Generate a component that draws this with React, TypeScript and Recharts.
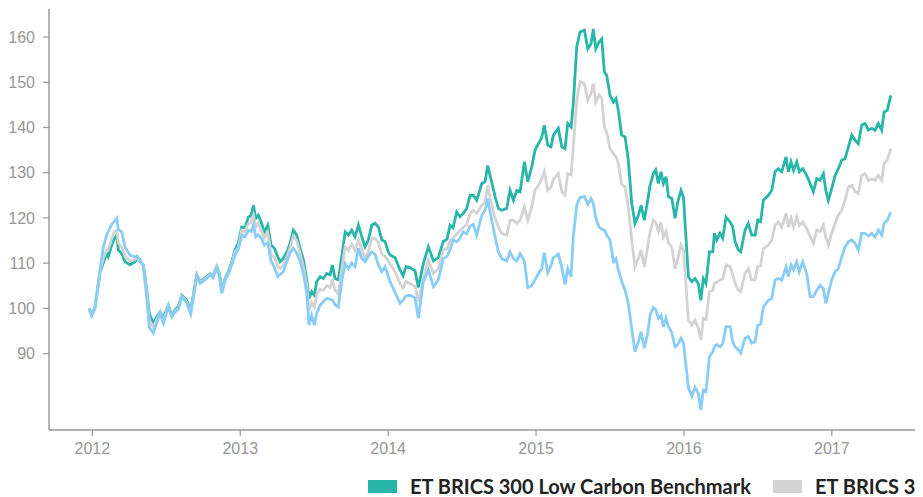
import React from "react";
import { LineChart, Line, XAxis, YAxis } from "recharts";

const years = [
  2011.978, 2011.996, 2012.018, 2012.052, 2012.074, 2012.097, 2012.108, 2012.131, 2012.150, 2012.165,
  2012.176, 2012.199, 2012.221, 2012.255, 2012.289, 2012.304, 2012.323, 2012.345, 2012.368, 2012.385,
  2012.412, 2012.435, 2012.458, 2012.480, 2012.514, 2012.537, 2012.559, 2012.581, 2012.604, 2012.638,
  2012.665, 2012.706, 2012.728, 2012.774, 2012.796, 2012.816, 2012.841, 2012.859, 2012.875, 2012.897,
  2012.920, 2012.943, 2012.965, 2012.987, 2013.010, 2013.032, 2013.055, 2013.073, 2013.089, 2013.105,
  2013.122, 2013.141, 2013.163, 2013.186, 2013.208, 2013.231, 2013.254, 2013.269, 2013.291, 2013.321,
  2013.337, 2013.359, 2013.382, 2013.404, 2013.427, 2013.450, 2013.465, 2013.483, 2013.501, 2013.517,
  2013.540, 2013.562, 2013.585, 2013.607, 2013.623, 2013.641, 2013.663, 2013.686, 2013.709, 2013.731,
  2013.754, 2013.776, 2013.799, 2013.822, 2013.844, 2013.866, 2013.889, 2013.911, 2013.934, 2013.957,
  2013.979, 2014.001, 2014.013, 2014.047, 2014.080, 2014.101, 2014.121, 2014.148, 2014.182, 2014.204,
  2014.238, 2014.272, 2014.306, 2014.339, 2014.373, 2014.398, 2014.419, 2014.439, 2014.464, 2014.486,
  2014.508, 2014.531, 2014.554, 2014.576, 2014.599, 2014.633, 2014.655, 2014.673, 2014.689, 2014.723,
  2014.745, 2014.768, 2014.802, 2014.824, 2014.847, 2014.870, 2014.892, 2014.921, 2014.944, 2014.971,
  2014.993, 2015.016, 2015.039, 2015.056, 2015.079, 2015.101, 2015.117, 2015.151, 2015.174, 2015.196,
  2015.214, 2015.237, 2015.252, 2015.275, 2015.297, 2015.327, 2015.350, 2015.372, 2015.387, 2015.404,
  2015.426, 2015.444, 2015.462, 2015.478, 2015.500, 2015.523, 2015.541, 2015.556, 2015.579, 2015.602,
  2015.624, 2015.647, 2015.669, 2015.692, 2015.710, 2015.732, 2015.755, 2015.771, 2015.793, 2015.809,
  2015.827, 2015.845, 2015.861, 2015.879, 2015.895, 2015.918, 2015.940, 2015.958, 2015.980, 2015.997,
  2016.030, 2016.053, 2016.075, 2016.097, 2016.114, 2016.131, 2016.149, 2016.172, 2016.195, 2016.206,
  2016.222, 2016.244, 2016.262, 2016.285, 2016.312, 2016.330, 2016.346, 2016.368, 2016.384, 2016.413,
  2016.435, 2016.458, 2016.481, 2016.499, 2016.518, 2016.537, 2016.571, 2016.594, 2016.616, 2016.638,
  2016.661, 2016.690, 2016.706, 2016.724, 2016.741, 2016.763, 2016.780, 2016.803, 2016.830, 2016.853,
  2016.875, 2016.898, 2016.920, 2016.943, 2016.959, 2016.976, 2016.999, 2017.022, 2017.044, 2017.067,
  2017.089, 2017.112, 2017.135, 2017.157, 2017.179, 2017.202, 2017.224, 2017.247, 2017.270, 2017.292,
  2017.314, 2017.337, 2017.353, 2017.375, 2017.398,
];

const lowCarbon = [
  100, 98.6, 100.2, 108, 110, 112.1, 111.4, 114, 115.5, 116.2,
  112.9, 112.1, 110.3, 109.6, 110.3, 111.4, 110.3, 109.6, 104, 98.9,
  96.7, 98.1, 99.2, 97.8, 100.7, 98.5, 99.6, 100.4, 102.9, 101.8,
  99.6, 107.4, 105.9, 107, 107.7, 107.2, 109.2, 107.7, 104, 106.6,
  108.1, 110.3, 113, 114.5, 118, 117.8, 120.2, 120.5, 122.8, 119.9,
  120.6, 119.1, 116.9, 118.4, 114, 113.3, 111.4, 110.3, 111, 112.9,
  114.4, 117.3, 116.2, 113.3, 110.7, 106.3, 102.2, 103.7, 102.9, 105.9,
  107, 106.6, 107.7, 107.4, 109.6, 106.6, 106.3, 111.4, 116.9, 116.2,
  117.3, 115.8, 118.4, 115.8, 113.6, 115.1, 118.4, 118.8, 118, 115.1,
  114.8, 112.5, 111.8, 111.2, 108.5, 107.2, 109.2, 109, 108.3, 104.6,
  109.9, 113.6, 110.5, 111.2, 114.8, 115.3, 118.4, 117.8, 121.3, 120.3,
  121, 122.1, 125, 125, 123.9, 127.6, 128, 131.6, 129.4, 124.7,
  122.1, 121.7, 122.1, 126.1, 123.9, 126.1, 125.8, 132.4, 128, 131.3,
  135, 136.4, 137.9, 140.5, 136.1, 135.7, 138.3, 139.8, 135.7, 135.3,
  140.9, 140.1, 145.3, 157.8, 161.1, 161.5, 157.4, 158.5, 161.8, 157.4,
  158.9, 159.6, 152.3, 151.5, 147.1, 145.6, 146.4, 143.8, 138.3, 137.9,
  132.8, 123.2, 118.8, 120.6, 122.8, 119.5, 123.9, 127.2, 129.8, 130.6,
  127.6, 130.2, 127.6, 129.1, 124.7, 124.3, 119.9, 123.5, 126.1, 124.5,
  107, 105.9, 106.6, 105.5, 101.8, 106.6, 105.5, 112.5, 112.5, 116.6,
  115.1, 116.6, 115.5, 120.2, 119.1, 118, 114.7, 112.9, 112.5, 117.3,
  118.8, 116.2, 116.2, 119.5, 119.2, 123.9, 125, 126.1, 130.2, 130.9,
  130.2, 133.5, 130.2, 132.4, 130.5, 132.4, 130.2, 130.9, 129.4, 127.6,
  125.8, 128.7, 128.3, 129.8, 126.1, 123.9, 126.5, 129.4, 130.9, 132.8,
  133.1, 135.7, 138.3, 137.2, 136.4, 140.5, 140.9, 139.4, 139.8, 139.4,
  140.9, 139.4, 143.4, 143.8, 147.1,
];

const brics300 = [
  100, 98.5, 100.1, 108.2, 111, 113, 113, 115.5, 117, 117.3,
  114.5, 113.5, 111.5, 110.5, 110.8, 111.3, 110.5, 109.4, 103.3, 97.5,
  95.8, 97.5, 99, 97.2, 100.5, 98.2, 99.4, 100, 102.7, 101.4,
  99, 107.2, 105.7, 106.8, 107.6, 107, 109, 107.4, 103.6, 106.4,
  107.8, 110, 112.5, 113.5, 117.3, 117, 118.7, 119, 120.6, 118,
  118.8, 117.5, 115.5, 116.8, 112, 111.2, 109.3, 108.8, 109.6, 111.8,
  113.5, 116, 115, 112.3, 109.2, 105, 99.6, 101.3, 100.3, 103,
  104.2, 104, 105, 104.6, 106.5, 104, 103.2, 108.5, 113.6, 112.8,
  114.2, 112.8, 115.1, 113, 111, 112.5, 115.5, 115.5, 114.5, 112,
  111.5, 110.5, 109.8, 108.1, 105.5, 104.5, 105.9, 105.5, 104.8, 101.5,
  106.5, 110.7, 107.7, 108.8, 112.9, 113.2, 115, 115.5, 116.5, 117.2,
  117.9, 118.5, 121, 121.7, 121, 122.8, 123.5, 127.2, 124.5, 119.9,
  118, 116.6, 116.2, 119.5, 119.5, 118.8, 119.5, 122.4, 119.5, 122.5,
  126.1, 127.2, 128.7, 130.2, 126.1, 126.8, 128.5, 129.8, 125.8, 125,
  129.8, 129.5, 135.7, 146, 150.1, 149.7, 146, 147.5, 149.7, 145.6,
  147.2, 146.5, 140.1, 138.9, 135.3, 134.2, 133.5, 132, 127.5, 126.8,
  122.4, 115.1, 109.2, 111, 112.9, 109.2, 113.6, 117, 119.5, 119,
  117, 119, 115.8, 117, 114.5, 113.4, 108.8, 111, 114, 112.8,
  97.4, 96.3, 97.4, 95.6, 93, 97.8, 97.5, 103.7, 104, 105.5,
  105.8, 106.2, 106.5, 109.6, 109.2, 107.5, 105.5, 104, 103.7, 107.7,
  108.8, 106.3, 106.3, 109.3, 109.4, 113.2, 114, 115.1, 118.4, 119.1,
  118, 121, 118, 119.9, 118, 120.2, 118.3, 119.1, 117.7, 115.8,
  114.4, 117.3, 117, 118.4, 115.8, 114, 116.6, 118.8, 120.6, 121.7,
  123.9, 126.9, 127.2, 125.8, 125.4, 129.4, 129.8, 128.3, 128.6, 128.3,
  129.4, 128.3, 132, 132.8, 135.3,
];

const msciBrics = [
  100, 98.4, 100, 108.5, 113.5, 116.2, 117, 118.6, 119.3, 119.9,
  117.5, 116.9, 113.5, 111.8, 111.4, 111.2, 110.8, 109.2, 102.5, 95.8,
  94.5, 96.7, 99, 96.7, 100.3, 98.1, 99.2, 99.8, 102.5, 101.2,
  98.8, 107, 105.5, 106.6, 107.5, 106.8, 108.8, 107.2, 103.3, 106.2,
  107.6, 109.6, 111.8, 113, 116.2, 115.8, 117.3, 117, 118.4, 115.8,
  116.3, 115.6, 114, 114.5, 110.5, 109, 107, 107.5, 108.1, 110.8,
  112.2, 113.3, 112.2, 110.5, 107.7, 103.3, 96.3, 98.5, 96.3, 98.9,
  100.7, 101.5, 102.2, 102, 101.8, 100.8, 100.3, 106, 109.9, 108.8,
  110, 109.2, 113.3, 111, 110.3, 111.5, 112.5, 112, 109.6, 108.1,
  109.2, 107, 105.9, 103.5, 101.1, 101.8, 102.8, 102.9, 102.3, 97.8,
  105.9, 108.5, 104.8, 106.3, 111, 111.5, 113, 115.1, 114.7, 115.5,
  116.9, 116.5, 118.2, 118.6, 116.2, 120.6, 121.7, 124.3, 121.5, 115.8,
  112.5, 111, 110.5, 112.5, 111, 110.5, 112.1, 110.5, 104.6, 105,
  106.3, 107.7, 108.8, 112.3, 107.9, 109.5, 111.2, 112, 109, 105.3,
  108.8, 107, 116, 122.8, 124.5, 124.7, 123, 124.3, 123.2, 120,
  118, 117.5, 117.3, 116.2, 115.1, 110.3, 111, 108.5, 106, 104,
  101, 95.5, 90.4, 92.6, 94.8, 91.2, 94.5, 98.5, 100.2, 99.8,
  97.8, 98.5, 95.9, 97.9, 96, 94.6, 91.5, 92, 93.4, 92.3,
  82.5, 80.6, 82.5, 81.2, 77.5, 81.9, 81.6, 89.3, 90.4, 91.5,
  92, 91.5, 92.2, 96, 95.9, 92.5, 91.5, 90.8, 90.1, 93.4,
  93.8, 92.3, 92.6, 96.3, 96.5, 100.3, 101.8, 102.2, 106.3, 106.6,
  106.2, 109.2, 107, 109.6, 108.5, 110.3, 108.1, 110.3, 107.7, 102.6,
  102.6, 104, 105.1, 104.3, 101.1, 103.3, 106.3, 108.1, 108.8, 111.4,
  113.6, 114.7, 115.1, 114.4, 112.9, 116.6, 116.6, 116, 116.6, 115.8,
  117.3, 116.2, 118.8, 119.5, 121.3,
];

const xTicks = [2012, 2013, 2014, 2015, 2016, 2017];
const yTicks = [90, 100, 110, 120, 130, 140, 150, 160];

const seriesNames = [
  "ET BRICS 300 Low Carbon Benchmark",
  "ET BRICS 300",
  "MSCI BRICS",
];

const COLORS = ["#27b6a9", "#d3d3d3", "#88cdf8"];

const data = years.map((y, i) => ({
  year: y,
  lowCarbon: lowCarbon[i],
  brics300: brics300[i],
  msciBrics: msciBrics[i],
}));

const tickStyle = {
  fontFamily: "'Liberation Sans', Arial, sans-serif",
  fontSize: 16,
  fill: "#969696",
};

const legendLeft = [360, 765, 1170];

export default function App() {
  return (
    <div
      style={{
        position: "relative",
        width: 915,
        height: 489,
        overflow: "hidden",
      }}
    >
      <style>{"#root{width:915px;}"}</style>
      <LineChart
        width={1050}
        height={489}
        data={data}
        margin={{ top: 1, right: 0, bottom: 0, left: 0 }}
      >
        <XAxis
          dataKey="year"
          type="number"
          domain={[2011.707, 2018.529]}
          ticks={xTicks}
          tickFormatter={(v) => String(v)}
          height={67}
          tickSize={6}
          tickMargin={7}
          stroke="#9a9a9a"
          axisLine={{ stroke: "#9a9a9a", strokeWidth: 1.5 }}
          tickLine={{ stroke: "#9a9a9a", strokeWidth: 1.2 }}
          tick={tickStyle}
          allowDataOverflow
        />
        <YAxis
          type="number"
          domain={[73.1, 166.2]}
          ticks={yTicks}
          width={41}
          tickSize={6}
          tickMargin={8}
          axisLine={{ stroke: "#9a9a9a", strokeWidth: 1.5 }}
          tickLine={{ stroke: "#9a9a9a", strokeWidth: 1.2 }}
          tick={tickStyle}
          allowDataOverflow
        />
        <Line
          dataKey="lowCarbon"
          type="linear"
          stroke={COLORS[0]}
          strokeWidth={2.8}
          dot={false}
          isAnimationActive={false}
        />
        <Line
          dataKey="brics300"
          type="linear"
          stroke={COLORS[1]}
          strokeWidth={2.8}
          dot={false}
          isAnimationActive={false}
        />
        <Line
          dataKey="msciBrics"
          type="linear"
          stroke={COLORS[2]}
          strokeWidth={2.8}
          dot={false}
          isAnimationActive={false}
        />
      </LineChart>
      {seriesNames.map((name, i) => (
        <div
          key={name}
          style={{
            position: "absolute",
            left: legendLeft[i],
            top: 466,
            height: 24,
            display: "flex",
            alignItems: "center",
            whiteSpace: "nowrap",
          }}
        >
          <span style={{ display: "inline-block", width: 29, height: 13, background: COLORS[i] }} />
          <span
            style={{
              marginLeft: 13,
              fontFamily: "Lato, 'Noto Sans', sans-serif",
              fontWeight: 700,
              fontSize: 20,
              color: "#222",
              lineHeight: "24px",
            }}
          >
            {name}
          </span>
        </div>
      ))}
    </div>
  );
}
